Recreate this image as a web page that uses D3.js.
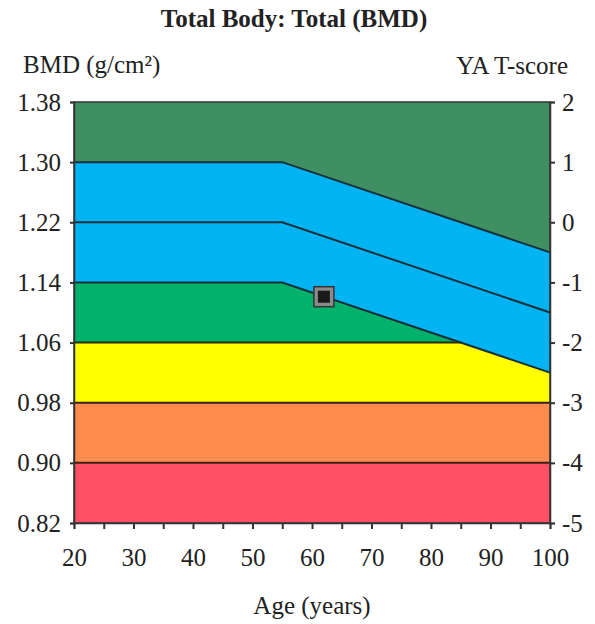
<!DOCTYPE html>
<html><head><meta charset="utf-8">
<script src="https://cdn.jsdelivr.net/npm/d3@7"></script>
<style>body{margin:0;background:#fff}svg{display:block}text{font-family:"Liberation Serif","DejaVu Serif",serif;fill:#222}</style>
</head><body><svg id="c" width="595" height="624"></svg>
<script>
// ---- data ----
const bmdTicks = [0.82, 0.90, 0.98, 1.06, 1.14, 1.22, 1.30, 1.38];
const tTicks = [-5, -4, -3, -2, -1, 0, 1, 2];
const ageTicks = [20, 30, 40, 50, 60, 70, 80, 90, 100];
const ageMinor = [20, 25, 30, 35, 40, 45, 50, 55, 60, 65, 70, 75, 80, 85, 90, 95, 100];
// reference curves (BMD) — flat until age 55 then decline
const curveAges = [20, 55, 100];
const lineT1 = [1.30, 1.30, 1.18];   // T = +1 line
const lineT0 = [1.22, 1.22, 1.10];   // T = 0 line
const lineTm1 = [1.14, 1.14, 1.02];  // T = -1 line
const osteopeniaLevel = 1.06;
const level3 = 0.98, level4 = 0.90;
const patient = {age: 62, bmd: 1.121};

const svg = d3.select("#c");
const L = 74, R = 550, T = 102, B = 523;
const x = d3.scaleLinear().domain([20, 100]).range([L, R]);
const y = d3.scaleLinear().domain([0.82, 1.38]).range([B, T]);
const yT = d3.scaleLinear().domain([-5, 2]).range([B, T]);

const pts = arr => curveAges.map((a, i) => [a, arr[i]]);
const f = (arr, a) => {
  for (let i = 0; i < curveAges.length - 1; i++) {
    if (a <= curveAges[i + 1]) {
      const t = (a - curveAges[i]) / (curveAges[i + 1] - curveAges[i]);
      return arr[i] + t * (arr[i + 1] - arr[i]);
    }
  }
  return arr[arr.length - 1];
};
const ages = d3.range(20, 100.01, 0.5);
const area = d3.area().x(d => x(d[0])).y0(d => y(d[1])).y1(d => y(d[2]));
const line = d3.line().x(d => x(d[0])).y(d => y(d[1]));

const g = svg.append("g");
g.append("path").datum(ages.map(a => [a, f(lineT1, a), 1.38])).attr("d", area).attr("fill", "#3f8f62");
g.append("path").datum(ages.map(a => [a, f(lineTm1, a), f(lineT1, a)])).attr("d", area).attr("fill", "#00b3f2");
g.append("path").datum(ages.map(a => [a, osteopeniaLevel, Math.max(osteopeniaLevel, f(lineTm1, a))])).attr("d", area).attr("fill", "#00b26a");
g.append("path").datum(ages.map(a => [a, level3, Math.min(osteopeniaLevel, f(lineTm1, a))])).attr("d", area).attr("fill", "#ffff00");
g.append("path").datum(ages.map(a => [a, level4, level3])).attr("d", area).attr("fill", "#ff8b4e");
g.append("path").datum(ages.map(a => [a, 0.82, level4])).attr("d", area).attr("fill", "#ff5065");

const lc = "#17303a";
[lineT1, lineT0, lineTm1].forEach(arr => {
  g.append("path").datum(pts(arr)).attr("d", line).attr("fill", "none").attr("stroke", lc).attr("stroke-width", 2);
});
const slope = (lineTm1[1] - lineTm1[2]) / (curveAges[2] - curveAges[1]);
const cross = curveAges[1] + (lineTm1[1] - osteopeniaLevel) / slope;
g.append("path").datum([[20, osteopeniaLevel], [cross, osteopeniaLevel]]).attr("d", line).attr("fill", "none").attr("stroke", "#2a2a10").attr("stroke-width", 2);
[level3, level4].forEach(v => {
  g.append("path").datum([[20, v], [100, v]]).attr("d", line).attr("fill", "none").attr("stroke", "#3a2018").attr("stroke-width", 2);
});
g.append("rect").attr("x", L).attr("y", T).attr("width", R - L).attr("height", B - T)
  .attr("fill", "none").attr("stroke", "#333").attr("stroke-width", 1.5);

const FS = 25;
const left = svg.append("g").attr("transform", `translate(${L},0)`)
  .call(d3.axisLeft(y).tickValues(bmdTicks).tickFormat(d3.format(".2f")).tickSize(4).tickPadding(9));
const right = svg.append("g").attr("transform", `translate(${R},0)`)
  .call(d3.axisRight(yT).tickValues(tTicks).tickFormat(d => d).tickSize(5).tickPadding(7));
const bottom = svg.append("g").attr("transform", `translate(0,${B})`)
  .call(d3.axisBottom(x).tickValues(ageMinor).tickFormat(d => ageTicks.includes(d) ? d : "").tickSize(6).tickPadding(19));
[left, right, bottom].forEach(a => {
  a.select(".domain").attr("stroke", "#333").attr("stroke-width", 1.5);
  a.selectAll(".tick line").attr("stroke", "#333").attr("stroke-width", 2);
  a.selectAll("text").attr("font-size", FS).attr("font-family", '"Liberation Serif",serif').attr("fill", "#2a2a2a");
});

const s = 20;
svg.append("rect").attr("x", x(patient.age) - s / 2).attr("y", y(patient.bmd) - s / 2).attr("width", s).attr("height", s)
  .attr("fill", "#8a8a8a").attr("stroke", "#333").attr("stroke-width", 1.5);
svg.append("rect").attr("x", x(patient.age) - 6).attr("y", y(patient.bmd) - 6).attr("width", 12).attr("height", 12)
  .attr("fill", "#1a1a1a");

svg.append("text").attr("x", 294).attr("y", 27).attr("text-anchor", "middle").attr("font-size", 25).attr("font-weight", "bold").text("Total Body: Total (BMD)");
svg.append("text").attr("x", 23).attr("y", 73).attr("font-size", FS).text("BMD (g/cm²)");
svg.append("text").attr("x", 568).attr("y", 74).attr("text-anchor", "end").attr("font-size", FS).text("YA T-score");
svg.append("text").attr("x", 312).attr("y", 614).attr("text-anchor", "middle").attr("font-size", FS).text("Age (years)");
</script></body></html>
